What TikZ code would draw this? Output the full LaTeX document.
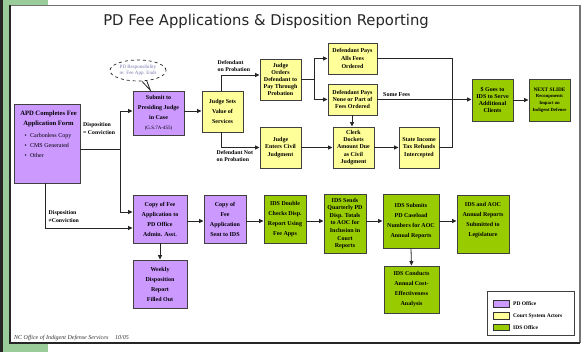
\documentclass[tikz,border=0pt]{standalone}
\usepackage{fontspec}
\setmainfont{Liberation Serif}
\newfontfamily\titlefont{DejaVu Sans}
\usetikzlibrary{arrows.meta,shapes.geometric}
\definecolor{pdc}{RGB}{204,153,255}
\definecolor{ctc}{RGB}{255,255,153}
\definecolor{idsc}{RGB}{153,204,0}
\definecolor{stripc}{RGB}{153,204,153}
\definecolor{calloutc}{RGB}{120,120,175}
\newcommand{\smtxt}{\fontsize{4.7}{6.8}\selectfont}
\newcommand{\gstxt}{\mdseries\fontsize{5}{10}\selectfont}
\tikzset{
  bx/.style={draw=black!75, line width=0.9pt, align=center, inner sep=1pt,
    font=\bfseries\fontsize{6}{7.2}\selectfont},
  loose/.style={font=\bfseries\fontsize{6}{10}\selectfont},
  pdbox/.style={bx, fill=pdc},
  ctbox/.style={bx, fill=ctc},
  idsbox/.style={bx, fill=idsc},
  ln/.style={draw=black!85, line width=0.8pt},
  arr/.style={ln, -{Triangle[length=4.5pt,width=4pt]}},
  lab/.style={font=\bfseries\fontsize{5.8}{6.4}\selectfont, align=left, inner sep=0pt},
  legtxt/.style={font=\bfseries\fontsize{5.5}{6}\selectfont, anchor=west, inner sep=0pt},
  swatch/.style={draw=black!80, line width=0.7pt, minimum width=16pt, minimum height=6.5pt, inner sep=0pt}
}
\begin{document}
\begin{tikzpicture}[x=1pt,y=-1pt]
\useasboundingbox (0,0) rectangle (582,352);
% background and frame
\fill[white] (0,0) rectangle (582,352);
\fill[black!85] (0,0) rectangle (3,352);
\fill[stripc] (3,0) rectangle (9.5,352);
\fill[stripc] (3,0) rectangle (48,5);
\fill[stripc] (3,343) rectangle (48,352);
\draw[black!55, line width=1.3pt] (10,5.5) -- (580,5.5) -- (580,343);
\draw[black!85, line width=1.3pt] (10,5.5) -- (10,343) -- (580,343);

% title
\node[font=\titlefont\fontsize{14.8}{16}\selectfont, text=black!85] (title) at (266,21) {PD Fee Applications \& Disposition Reporting};

% APD box
\node[pdbox, minimum width=66pt, minimum height=79pt] (apd) at (47,143.5) {};
\node[font=\bfseries\fontsize{6.6}{10}\selectfont, align=center, inner sep=0pt] (apdtitle) at (48.5,119) {APD Completes Fee\\Application Form};
\node[font=\fontsize{6}{10}\selectfont, align=left, inner sep=0pt, anchor=west] (apdlist) at (24.5,145) {\textbullet\hspace{3.3pt}Carbonless Copy\\\textbullet\hspace{3.3pt}CMS Generated\\\textbullet\hspace{3.3pt}Other};

% callout
\node[ellipse, draw=black!85, dashed, line width=0.7pt, fill=white, minimum width=56pt, minimum height=21pt, inner sep=0pt,
  font=\fontsize{5}{5.4}\selectfont, text=calloutc, align=center] (callout) at (138,70.5) {PD Responsibility\\re: Fee App. Ends};
\coordinate (tip) at (150.5,90.5);

% upper flow
\node[pdbox, loose, minimum width=51pt, minimum height=44pt] (submit) at (158.5,113) {Submit to\\Presiding Judge\\in Case\\\gstxt(G.S.7A-455)};
\draw[ln] (callout.-70) -- (tip) -- (callout.-50);
\node[ctbox, loose, minimum width=41pt, minimum height=41pt] (judgesets) at (222.5,111.5) {Judge Sets\\Value of\\Services};
\node[ctbox, minimum width=41pt, minimum height=41pt] (judgeorders) at (280.5,79.5) {Judge\\Orders\\Defendant to\\Pay Through\\Probation};
\node[ctbox, font=\bfseries\fontsize{6}{7.6}\selectfont, minimum width=49pt, minimum height=31pt] (paysall) at (352.5,58.5) {Defendant Pays\\Alls Fees\\Ordered};
\node[ctbox, minimum width=49pt, minimum height=31pt] (paysnone) at (352.5,99.5) {Defendant Pays\\None or Part of\\Fees Ordered};
\node[ctbox, minimum width=41pt, minimum height=41pt] (judgeenters) at (280.5,147.5) {Judge\\Enters Civil\\Judgment};
\node[ctbox, minimum width=41pt, minimum height=41pt] (clerk) at (353.5,147.5) {Clerk\\Dockets\\Amount Due\\as Civil\\Judgment};
\node[ctbox, minimum width=40pt, minimum height=41pt] (state) at (419,147.5) {State Income\\Tax Refunds\\Intercepted};
\node[idsbox, minimum width=41pt, minimum height=42pt] (goes) at (492.5,100) {\$ Goes to\\IDS to Serve\\Additional\\Clients};
\node[idsbox, font=\bfseries\fontsize{5.3}{6.8}\selectfont, minimum width=41pt, minimum height=42pt] (next) at (549.5,100) {NEXT SLIDE\\\smtxt Recoupments\\\smtxt Impact on\\\smtxt Indigent Defense};

% lower flow
\node[pdbox, loose, minimum width=54pt, minimum height=48pt] (copyfee) at (160,219) {Copy of Fee\\Application to\\PD Office\\Admin. Asst.};
\node[pdbox, loose, minimum width=54pt, minimum height=48pt] (weekly) at (160,284) {Weekly\\Disposition\\Report\\Filled Out};
\node[pdbox, loose, minimum width=42pt, minimum height=48pt] (copysent) at (225,219) {Copy of\\Fee\\Application\\Sent to IDS};
\node[idsbox, loose, minimum width=42pt, minimum height=48pt] (double) at (285,219) {IDS Double\\Checks Disp.\\Report Using\\Fee Apps};
\node[idsbox, font=\bfseries\fontsize{6}{7.6}\selectfont, minimum width=42pt, minimum height=59pt] (sends) at (345,223.5) {IDS Sends\\Quarterly PD\\Disp. Totals\\to AOC for\\Inclusion in\\Court\\Reports};
\node[idsbox, loose, minimum width=56pt, minimum height=54pt] (submits) at (411,221) {IDS Submits\\PD Caseload\\Numbers for AOC\\Annual Reports};
\node[idsbox, loose, minimum width=52pt, minimum height=58pt] (annual) at (483,224) {IDS and AOC\\Annual Reports\\Submitted to\\Legislature\\\mbox{}};
\node[idsbox, loose, minimum width=55pt, minimum height=47pt] (conducts) at (411.5,289.5) {IDS Conducts\\Annual Cost-\\Effectiveness\\Analysis};

% helper coordinates
\coordinate (j1) at (120,149);
\coordinate (j1top) at (120,111);
\coordinate (j1bot) at (120,212);
\coordinate (j2) at (45,228);
\coordinate (k1) at (221,75);
\coordinate (k2) at (221,147.5);
\coordinate (k3) at (314,79);
\coordinate (k4) at (452,58.5);
\coordinate (k5) at (352,0);
\coordinate (yB) at (0,221);

% connectors upper
\draw[ln] (apd.east |- j1) -- (j1);
\draw[arr] (j1) -- (j1top) -- (submit.west |- j1top);
\draw[arr] (j1) -- (j1bot) -- (copyfee.west |- j1bot);
\draw[arr] (apd.south -| j2) -- (j2) -- (copyfee.west |- j2);
\draw[arr] (submit.east |- j1top) -- (judgesets.west |- j1top);
\draw[arr] (judgesets.north -| k1) -- (k1) -- (judgeorders.west |- k1);
\draw[arr] (judgesets.south -| k2) -- (k2) -- (judgeenters.west |- k2);
\draw[ln] (judgeorders.east |- k3) -- (k3);
\draw[arr] (k3) |- (paysall.west);
\draw[arr] (k3) |- (paysnone.west);
\draw[arr] (paysnone.south -| k5) -- (clerk.north -| k5);
\draw[arr] (judgeenters.east) -- (clerk.west);
\draw[arr] (clerk.east) -- (state.west);
\draw[ln] (paysall.east) -- (k4) -- (k4 |- state.east) -- (state.east);
\draw[arr] (paysnone.east) -- (goes.west |- paysnone.east);
\draw[arr] (goes.east) -- (next.west);

% connectors lower
\draw[arr] (copyfee.south) -- (weekly.north);
\draw[arr] (copyfee.east |- yB) -- (copysent.west |- yB);
\draw[arr] (copysent.east |- yB) -- (double.west |- yB);
\draw[arr] (double.east |- yB) -- (sends.west |- yB);
\draw[arr] (sends.east |- yB) -- (submits.west |- yB);
\draw[arr] (submits.east |- yB) -- (annual.west |- yB);
\draw[arr] (submits.south) -- (conducts.north);

% connector labels
\node[lab, anchor=west] (lprob) at (217.5,66) {Defendant\\on Probation};
\node[lab, anchor=west, font=\bfseries\fontsize{5.8}{6.6}\selectfont] (lnotprob) at (216.5,156) {Defendant Not\\on Probation};
\node[lab, anchor=west, font=\bfseries\fontsize{5.8}{8}\selectfont] (lconv) at (83,129) {Disposition\\= Conviction};
\node[lab, anchor=west, font=\bfseries\fontsize{5.8}{8}\selectfont] (lnconv) at (48.5,217) {Disposition\\≠Conviction};
\node[lab, anchor=west, font=\bfseries\fontsize{6}{7}\selectfont] (lsome) at (383,95) {Some Fees};

% legend
\node[draw=black!75, line width=1pt, fill=white, minimum width=87pt, minimum height=44pt, inner sep=0pt] (legend) at (530.5,314) {};
\node[swatch, fill=pdc] (sw1) at (501,304) {};
\node[swatch, fill=ctc] (sw2) at (501,316) {};
\node[swatch, fill=idsc] (sw3) at (501,327.5) {};
\node[legtxt] (lg1) at (513,304) {PD Office};
\node[legtxt] (lg2) at (513,316) {Court System Actors};
\node[legtxt] (lg3) at (513,327.5) {IDS Office};

% footer
\node[font=\itshape\fontsize{6}{7}\selectfont, anchor=west, inner sep=0pt, text=black!80] (foot1) at (14,338) {NC Office of Indigent Defense Services};
\node[font=\itshape\fontsize{6}{7}\selectfont, anchor=west, inner sep=0pt, text=black!80] (foot2) at (115,338) {10/05};
\end{tikzpicture}
\end{document}
